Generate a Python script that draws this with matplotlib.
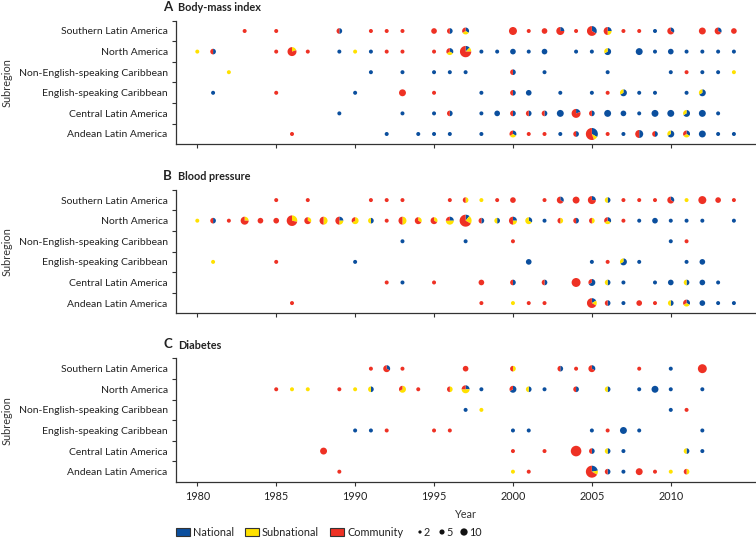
import numpy as np
import matplotlib
matplotlib.use('Agg')
import matplotlib.pyplot as plt
from matplotlib.patches import Wedge, Circle, Rectangle
from matplotlib.transforms import Affine2D, ScaledTranslation

plt.rcParams['font.family'] = ['Lato', 'DejaVu Sans']

# subregions, bottom to top
codes = ['ALA', 'CLA', 'ESC', 'NESC', 'NA', 'SLA']
regions = ['Andean Latin America', 'Central Latin America', 'English-speaking Caribbean',
           'Non-English-speaking Caribbean', 'North America', 'Southern Latin America']
kinds = ['National', 'Subnational', 'Community']
colours = ['#0b4f9e', '#ffe100', '#ee3124']
years = [1980, 1985, 1990, 1995, 2000, 2005, 2010]
size_counts = [2, 5, 10]

# (year, subregion, national, subnational, community)
bmi = [
    (1983, 'SLA', 0, 0, 1), (1985, 'SLA', 0, 0, 1), (1989, 'SLA', 1, 0, 1), (1991, 'SLA', 0, 0, 1),
    (1992, 'SLA', 0, 0, 1), (1993, 'SLA', 0, 0, 1), (1995, 'SLA', 0, 0, 2), (1996, 'SLA', 1, 0, 1),
    (1997, 'SLA', 1, 1, 1), (2000, 'SLA', 0, 0, 4), (2001, 'SLA', 0, 0, 1), (2002, 'SLA', 0, 0, 2),
    (2003, 'SLA', 1, 0, 3), (2004, 'SLA', 0, 0, 1), (2005, 'SLA', 2, 0, 4), (2006, 'SLA', 1, 1, 2),
    (2007, 'SLA', 0, 0, 1), (2008, 'SLA', 0, 0, 1), (2009, 'SLA', 1, 0, 0), (2010, 'SLA', 1, 0, 2),
    (2012, 'SLA', 0, 0, 3), (2013, 'SLA', 1, 0, 2), (2014, 'SLA', 0, 0, 2),
    (1980, 'NA', 0, 1, 0), (1981, 'NA', 1, 0, 1), (1985, 'NA', 0, 0, 1), (1986, 'NA', 0, 1, 4),
    (1987, 'NA', 0, 0, 1), (1989, 'NA', 1, 0, 0), (1990, 'NA', 0, 1, 0), (1991, 'NA', 1, 0, 0),
    (1992, 'NA', 0, 0, 1), (1993, 'NA', 0, 0, 1), (1995, 'NA', 0, 0, 1), (1996, 'NA', 1, 1, 1),
    (1997, 'NA', 1, 1, 6), (1998, 'NA', 1, 0, 0), (1999, 'NA', 1, 0, 0), (2000, 'NA', 2, 0, 0),
    (2001, 'NA', 1, 0, 0), (2002, 'NA', 2, 0, 0), (2004, 'NA', 1, 0, 0), (2005, 'NA', 1, 0, 0),
    (2006, 'NA', 2, 1, 0), (2008, 'NA', 3, 0, 0), (2009, 'NA', 1, 0, 0), (2010, 'NA', 2, 0, 0),
    (2011, 'NA', 1, 0, 0), (2012, 'NA', 1, 0, 0), (2013, 'NA', 1, 0, 0), (2014, 'NA', 1, 0, 0),
    (1982, 'NESC', 0, 1, 0), (1991, 'NESC', 1, 0, 0), (1993, 'NESC', 1, 0, 0), (1995, 'NESC', 1, 0, 0),
    (1996, 'NESC', 1, 0, 0), (1997, 'NESC', 1, 0, 0), (2000, 'NESC', 1, 0, 1), (2002, 'NESC', 1, 0, 0),
    (2006, 'NESC', 1, 0, 0), (2010, 'NESC', 1, 0, 0), (2011, 'NESC', 0, 0, 1), (2012, 'NESC', 1, 0, 0),
    (2013, 'NESC', 1, 0, 0), (2014, 'NESC', 0, 1, 0),
    (1981, 'ESC', 1, 0, 0), (1985, 'ESC', 0, 0, 1), (1990, 'ESC', 1, 0, 0), (1993, 'ESC', 0, 0, 3),
    (1995, 'ESC', 0, 0, 1), (1998, 'ESC', 1, 0, 0), (2000, 'ESC', 1, 0, 1), (2001, 'ESC', 2, 0, 0),
    (2003, 'ESC', 1, 0, 0), (2005, 'ESC', 1, 0, 0), (2006, 'ESC', 0, 0, 1), (2007, 'ESC', 2, 1, 0),
    (2008, 'ESC', 1, 0, 0), (2009, 'ESC', 1, 0, 0), (2011, 'ESC', 1, 0, 0), (2012, 'ESC', 2, 1, 0),
    (1989, 'CLA', 1, 0, 0), (1993, 'CLA', 1, 0, 0), (1995, 'CLA', 1, 0, 0), (1996, 'CLA', 1, 0, 1),
    (1998, 'CLA', 1, 0, 0), (1999, 'CLA', 2, 0, 0), (2000, 'CLA', 1, 0, 1), (2001, 'CLA', 1, 0, 1),
    (2002, 'CLA', 1, 0, 1), (2003, 'CLA', 3, 0, 0), (2004, 'CLA', 1, 0, 4), (2005, 'CLA', 1, 0, 1),
    (2006, 'CLA', 3, 0, 0), (2007, 'CLA', 2, 0, 0), (2008, 'CLA', 1, 0, 0), (2009, 'CLA', 3, 0, 0),
    (2010, 'CLA', 3, 0, 0), (2011, 'CLA', 2, 1, 0), (2012, 'CLA', 3, 0, 0), (2013, 'CLA', 1, 0, 0),
    (1986, 'ALA', 0, 0, 1), (1992, 'ALA', 1, 0, 0), (1994, 'ALA', 1, 0, 0), (1995, 'ALA', 1, 0, 0),
    (1996, 'ALA', 1, 0, 0), (1998, 'ALA', 1, 0, 0), (2000, 'ALA', 1, 1, 1), (2001, 'ALA', 0, 0, 1),
    (2002, 'ALA', 0, 0, 1), (2003, 'ALA', 1, 0, 0), (2004, 'ALA', 1, 0, 1), (2005, 'ALA', 3, 1, 5),
    (2006, 'ALA', 0, 0, 1), (2007, 'ALA', 1, 0, 0), (2008, 'ALA', 2, 0, 2), (2009, 'ALA', 1, 0, 1),
    (2010, 'ALA', 2, 1, 0), (2011, 'ALA', 1, 1, 1), (2012, 'ALA', 3, 0, 0), (2013, 'ALA', 1, 0, 0),
    (2014, 'ALA', 1, 0, 0),
]

bp = [
    (1985, 'SLA', 0, 0, 1), (1987, 'SLA', 0, 0, 1), (1991, 'SLA', 0, 0, 1), (1992, 'SLA', 0, 0, 1),
    (1993, 'SLA', 0, 0, 1), (1996, 'SLA', 0, 0, 1), (1997, 'SLA', 0, 1, 1), (1998, 'SLA', 0, 1, 0),
    (1999, 'SLA', 0, 0, 1), (2000, 'SLA', 0, 0, 2), (2002, 'SLA', 0, 0, 1), (2003, 'SLA', 1, 0, 2),
    (2004, 'SLA', 0, 0, 3), (2005, 'SLA', 1, 0, 3), (2006, 'SLA', 1, 1, 0), (2007, 'SLA', 0, 0, 1),
    (2008, 'SLA', 0, 0, 1), (2009, 'SLA', 0, 0, 1), (2010, 'SLA', 1, 0, 2), (2011, 'SLA', 0, 1, 0),
    (2012, 'SLA', 0, 0, 4), (2013, 'SLA', 0, 0, 2), (2014, 'SLA', 0, 0, 1),
    (1980, 'NA', 0, 1, 0), (1981, 'NA', 1, 0, 1), (1982, 'NA', 0, 0, 1), (1983, 'NA', 0, 1, 3),
    (1984, 'NA', 0, 0, 2), (1985, 'NA', 0, 0, 2), (1986, 'NA', 0, 2, 5), (1987, 'NA', 0, 1, 2),
    (1988, 'NA', 0, 2, 2), (1989, 'NA', 1, 1, 2), (1990, 'NA', 0, 2, 1), (1991, 'NA', 1, 1, 0),
    (1992, 'NA', 0, 0, 1), (1993, 'NA', 0, 2, 2), (1994, 'NA', 0, 1, 2), (1995, 'NA', 0, 1, 2),
    (1996, 'NA', 1, 2, 1), (1997, 'NA', 1, 2, 6), (1998, 'NA', 1, 0, 1), (1999, 'NA', 1, 1, 0),
    (2000, 'NA', 1, 1, 2), (2001, 'NA', 1, 2, 0), (2002, 'NA', 1, 0, 0), (2003, 'NA', 0, 1, 1),
    (2004, 'NA', 1, 0, 1), (2005, 'NA', 0, 1, 1), (2006, 'NA', 1, 1, 1), (2007, 'NA', 0, 0, 1),
    (2008, 'NA', 1, 0, 0), (2009, 'NA', 2, 0, 0), (2010, 'NA', 1, 0, 0), (2011, 'NA', 1, 0, 0),
    (2012, 'NA', 1, 0, 0), (2014, 'NA', 1, 0, 0),
    (1993, 'NESC', 1, 0, 0), (1997, 'NESC', 1, 0, 0), (2000, 'NESC', 0, 0, 1), (2010, 'NESC', 1, 0, 0),
    (2011, 'NESC', 0, 0, 1),
    (1981, 'ESC', 0, 1, 0), (1985, 'ESC', 0, 0, 1), (1990, 'ESC', 1, 0, 0), (2001, 'ESC', 2, 0, 0),
    (2005, 'ESC', 1, 0, 0), (2006, 'ESC', 0, 0, 1), (2007, 'ESC', 2, 1, 0), (2008, 'ESC', 1, 0, 0),
    (2011, 'ESC', 1, 0, 0), (2012, 'ESC', 2, 0, 0),
    (1992, 'CLA', 0, 0, 1), (1993, 'CLA', 1, 0, 0), (1995, 'CLA', 0, 0, 1), (1998, 'CLA', 0, 0, 2),
    (2000, 'CLA', 1, 0, 1), (2002, 'CLA', 1, 0, 1), (2004, 'CLA', 0, 0, 5), (2005, 'CLA', 2, 0, 1),
    (2006, 'CLA', 1, 1, 0), (2007, 'CLA', 1, 0, 0), (2009, 'CLA', 1, 0, 0), (2010, 'CLA', 2, 0, 0),
    (2011, 'CLA', 1, 1, 0), (2012, 'CLA', 2, 0, 0), (2013, 'CLA', 1, 0, 0),
    (1986, 'ALA', 0, 0, 1), (1998, 'ALA', 0, 0, 1), (2000, 'ALA', 0, 1, 0), (2001, 'ALA', 0, 0, 1),
    (2002, 'ALA', 0, 0, 1), (2005, 'ALA', 1, 1, 4), (2006, 'ALA', 1, 0, 1), (2007, 'ALA', 1, 0, 0),
    (2008, 'ALA', 0, 0, 2), (2009, 'ALA', 0, 0, 1), (2010, 'ALA', 1, 1, 0), (2011, 'ALA', 1, 1, 1),
    (2012, 'ALA', 2, 0, 0), (2013, 'ALA', 1, 0, 0), (2014, 'ALA', 1, 0, 0),
]

diabetes = [
    (1991, 'SLA', 0, 0, 1), (1992, 'SLA', 1, 0, 2), (1993, 'SLA', 0, 0, 1), (1997, 'SLA', 0, 0, 2),
    (2000, 'SLA', 0, 1, 1), (2003, 'SLA', 1, 0, 1), (2004, 'SLA', 0, 0, 1), (2005, 'SLA', 1, 0, 2),
    (2008, 'SLA', 0, 0, 1), (2010, 'SLA', 1, 0, 0), (2012, 'SLA', 0, 0, 5),
    (1985, 'NA', 0, 0, 1), (1986, 'NA', 0, 1, 0), (1987, 'NA', 0, 1, 0), (1989, 'NA', 0, 0, 1),
    (1990, 'NA', 0, 1, 0), (1991, 'NA', 1, 1, 0), (1993, 'NA', 0, 2, 1), (1994, 'NA', 0, 0, 1),
    (1996, 'NA', 0, 1, 1), (1997, 'NA', 1, 2, 1), (1998, 'NA', 1, 0, 0), (2000, 'NA', 2, 0, 1),
    (2001, 'NA', 1, 1, 0), (2002, 'NA', 1, 0, 0), (2004, 'NA', 1, 0, 1), (2006, 'NA', 1, 1, 0),
    (2008, 'NA', 1, 0, 0), (2009, 'NA', 3, 0, 0), (2010, 'NA', 1, 0, 0), (2012, 'NA', 1, 0, 0),
    (1997, 'NESC', 1, 0, 0), (1998, 'NESC', 0, 1, 0), (2010, 'NESC', 1, 0, 0), (2011, 'NESC', 0, 0, 1),
    (1990, 'ESC', 1, 0, 0), (1991, 'ESC', 1, 0, 0), (1992, 'ESC', 0, 0, 1), (1995, 'ESC', 0, 0, 1),
    (1996, 'ESC', 0, 0, 1), (2000, 'ESC', 1, 0, 0), (2001, 'ESC', 1, 0, 0), (2005, 'ESC', 1, 0, 0),
    (2006, 'ESC', 0, 0, 1), (2007, 'ESC', 3, 0, 0), (2008, 'ESC', 1, 0, 0), (2012, 'ESC', 1, 0, 0),
    (1988, 'CLA', 0, 0, 3), (2000, 'CLA', 0, 0, 1), (2002, 'CLA', 0, 0, 1), (2004, 'CLA', 0, 0, 7),
    (2005, 'CLA', 1, 0, 1), (2006, 'CLA', 1, 1, 0), (2007, 'CLA', 1, 0, 0), (2011, 'CLA', 1, 1, 0),
    (2012, 'CLA', 1, 0, 0),
    (1989, 'ALA', 0, 0, 1), (2000, 'ALA', 0, 1, 0), (2001, 'ALA', 0, 0, 1), (2005, 'ALA', 2, 1, 6),
    (2006, 'ALA', 1, 0, 1), (2007, 'ALA', 1, 0, 0), (2008, 'ALA', 0, 0, 3), (2009, 'ALA', 0, 0, 1),
    (2010, 'ALA', 0, 1, 0), (2011, 'ALA', 0, 1, 1),
]

panels = [('A', 'Body-mass index', bmi), ('B', 'Blood pressure', bp), ('C', 'Diabetes', diabetes)]


def draw_pie(ax, x, y, counts):
    total = sum(counts)
    r = 2.0 * np.sqrt(total)  # radius in pixels
    tr = Affine2D().scale(r) + ScaledTranslation(x, y, ax.transData)
    start = 90
    for n, col in zip(counts, colours):
        if n == 0:
            continue
        if n == total:
            ax.add_patch(Circle((0, 0), 1, fc=col, lw=0, transform=tr, clip_on=False))
            break
        theta = 360 * n / total
        ax.add_patch(Wedge((0, 0), 1, start - theta, start, fc=col, lw=0, transform=tr, clip_on=False))
        start -= theta


fs = 7.8
W, H = 756, 539
fig = plt.figure(figsize=(7.56, 5.39), dpi=100)
bottoms = [0.7323, 0.4186, 0.1058]
axes = []
for (letter, title, data), b in zip(panels, bottoms):
    ax = fig.add_axes([0.2328, b, 0.7672, 0.2293])
    ax.set_xlim(1978.65, 2015.4)
    ax.set_ylim(-0.5, 5.5)
    for spine in ['top', 'right']:
        ax.spines[spine].set_visible(False)
    for spine in ['left', 'bottom']:
        ax.spines[spine].set_color('#333333')
        ax.spines[spine].set_linewidth(0.9)
    ax.set_yticks(range(6))
    ax.set_yticklabels(regions, fontsize=7.5, color='#222222')
    ax.set_yticks(np.arange(0.5, 6, 1), minor=True)
    ax.tick_params(axis='y', which='major', length=0, pad=6)
    ax.tick_params(axis='y', which='minor', length=3, width=0.8, color='#333333')
    ax.set_xticks(years)
    ax.tick_params(axis='x', length=3, width=0.8, color='#333333', labelsize=fs, labelcolor='#222222')
    ax.set_ylabel('Subregion', fontsize=fs, color='#333333', labelpad=0)
    ax.yaxis.set_label_coords(-0.281, 0.5)
    for year, code, nat, sub, com in data:
        draw_pie(ax, year, codes.index(code), (nat, sub, com))
    fig.text(163 / W, b + 0.2293 + 14 / H, letter, fontsize=9.5, fontweight='bold',
             va='center', ha='left', color='#222222')
    fig.text(178 / W, b + 0.2293 + 13 / H, title, fontsize=7.8, fontweight='bold',
             va='center', ha='left', color='#222222')
    axes.append(ax)

axes[0].tick_params(axis='x', labelbottom=False)
axes[1].tick_params(axis='x', labelbottom=False)
axes[2].set_xlabel('Year', fontsize=fs, color='#333333', labelpad=5)

# colour key
ly = 1 - 532 / H
for kind, col, px in zip(kinds, colours, [176, 245, 330]):
    fig.add_artist(Rectangle((px / W, ly - 4 / H), 14 / W, 8 / H, fc=col, ec='#333333', lw=0.8,
                             transform=fig.transFigure))
    fig.text((px + 17) / W, ly, kind, fontsize=fs, va='center', ha='left', color='#222222')

# size key: dot then number
for n, px in zip(size_counts, [420, 442, 464]):
    r = 1.15 * np.sqrt(n)
    tr = Affine2D().scale(r) + ScaledTranslation(px / W, ly, fig.transFigure)
    fig.add_artist(Circle((0, 0), 1, fc='#111111', lw=0, transform=tr))
    fig.text((px + r + 1.5) / W, ly, str(n), fontsize=fs, va='center', ha='left', color='#222222')

fig.savefig('out.png', dpi=100)
